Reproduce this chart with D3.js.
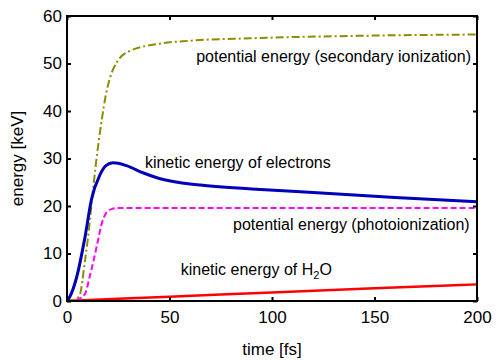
<!DOCTYPE html>
<html>
<head>
<meta charset="utf-8">
<script src="https://cdn.jsdelivr.net/npm/d3@7"></script>
<style>
  body { margin: 0; background: #fff; }
  text { font-family: "Liberation Sans", Arial, Helvetica, sans-serif; fill: #000; }
</style>
</head>
<body>
<script>
// values (time in fs, energy in keV)
var secT = [0, 3, 6, 8.8, 11.2, 12, 14, 16.9, 19, 21, 25, 30, 44, 60, 89, 138, 200];
var secV = [0, 0.2, 1, 8.6, 17, 20.5, 28.5, 38, 43.5, 47, 50.7, 52.5, 54.1, 54.8, 55.3, 55.8, 56.1];

var eleT = [0, 1.5, 4.7, 8.8, 12, 16, 19, 22.4, 25, 29, 37, 45, 65, 90, 122, 160, 200];
var eleV = [0, 1, 5, 13.5, 21.5, 26.5, 28.5, 29.1, 29, 28.5, 27, 25.8, 24.4, 23.6, 22.8, 21.8, 20.9];

var phoT = [0, 5, 8.8, 11, 12.7, 15, 17, 19.4, 22, 25, 50, 100, 200];
var phoV = [0, 0.3, 1.5, 5, 8, 12.5, 16.4, 18.7, 19.4, 19.6, 19.6, 19.6, 19.6];

var h2oT = [0, 50, 100, 150, 200];
var h2oV = [0, 0.9, 1.8, 2.7, 3.5];

var xTicks = [0, 50, 100, 150, 200];
var yTicks = [0, 10, 20, 30, 40, 50, 60];

var margin = {top: 16, right: 19, bottom: 59, left: 67},
    width = 496 - margin.left - margin.right,
    height = 360 - margin.top - margin.bottom;

var svg = d3.select("body").append("svg")
    .attr("width", 496)
    .attr("height", 360)
  .append("g")
    .attr("transform", "translate(" + margin.left + "," + margin.top + ")");

var x = d3.scaleLinear().domain([0, 200]).range([0, width]);
var y = d3.scaleLinear().domain([0, 60]).range([height, 0]);

function zip(ts, vs) { return ts.map(function(t, i) { return [t, vs[i]]; }); }

var line = d3.line()
    .x(function(d) { return x(d[0]); })
    .y(function(d) { return y(d[1]); })
    .curve(d3.curveMonotoneX);

var series = [
  {pts: zip(h2oT, h2oV), color: "#ff0000", w: 2.5, dash: null},
  {pts: zip(phoT, phoV), color: "#ff00ff", w: 2, dash: "6,3"},
  {pts: zip(secT, secV), color: "#8c8c00", w: 2, dash: "8,3,2,3"},
  {pts: zip(eleT, eleV), color: "#0000bb", w: 3, dash: null}
];

svg.selectAll(".series")
  .data(series)
  .enter().append("path")
    .attr("class", "series")
    .attr("d", function(d) { return line(d.pts); })
    .attr("fill", "none")
    .attr("stroke", function(d) { return d.color; })
    .attr("stroke-width", function(d) { return d.w; })
    .attr("stroke-dasharray", function(d) { return d.dash; });

// axes, ticks inside on all sides
var tk = 4;
svg.append("g").attr("transform", "translate(0," + height + ")")
  .call(d3.axisBottom(x).tickValues(xTicks).tickSizeInner(-tk).tickSizeOuter(0).tickPadding(10))
  .call(function(g) { g.select(".domain").remove(); g.selectAll("text").attr("font-size", 17); });
svg.append("g")
  .call(d3.axisTop(x).tickValues(xTicks).tickSizeInner(-tk).tickSizeOuter(0).tickFormat(""))
  .call(function(g) { g.select(".domain").remove(); });
svg.append("g")
  .call(d3.axisLeft(y).tickValues(yTicks).tickSizeInner(-tk).tickSizeOuter(0).tickPadding(5))
  .call(function(g) { g.select(".domain").remove(); g.selectAll("text").attr("font-size", 17); });
svg.append("g").attr("transform", "translate(" + width + ",0)")
  .call(d3.axisRight(y).tickValues(yTicks).tickSizeInner(-tk).tickSizeOuter(0).tickFormat(""))
  .call(function(g) { g.select(".domain").remove(); });
svg.selectAll(".tick line").attr("stroke", "#000").attr("stroke-width", 2);

svg.append("rect")
    .attr("width", width).attr("height", height)
    .attr("fill", "none").attr("stroke", "#000").attr("stroke-width", 2);

// labels
svg.append("text").attr("x", width / 2).attr("y", height + 54)
    .attr("text-anchor", "middle").attr("font-size", 17).text("time [fs]");
svg.append("text").attr("transform", "translate(-44," + (height / 2) + ") rotate(-90)")
    .attr("text-anchor", "middle").attr("font-size", 17).text("energy [keV]");

var notes = [
  {t: 63, v: 50.3, s: "potential energy (secondary ionization)"},
  {t: 38, v: 28.0, s: "kinetic energy of electrons"},
  {t: 81, v: 15.0, s: "potential energy (photoionization)"},
  {t: 55.5, v: 5.4, s: "kinetic energy of H"}
];
svg.selectAll(".note")
  .data(notes)
  .enter().append("text")
    .attr("class", "note")
    .attr("x", function(d) { return x(d.t); })
    .attr("y", function(d) { return y(d.v); })
    .attr("font-size", 16)
    .text(function(d) { return d.s; })
  .filter(function(d, i) { return i === 3; })
    .call(function(t) {
      t.append("tspan").attr("font-size", 11).attr("dy", 4).text("2");
      t.append("tspan").attr("dy", -4).text("O");
    });
</script>
</body>
</html>
